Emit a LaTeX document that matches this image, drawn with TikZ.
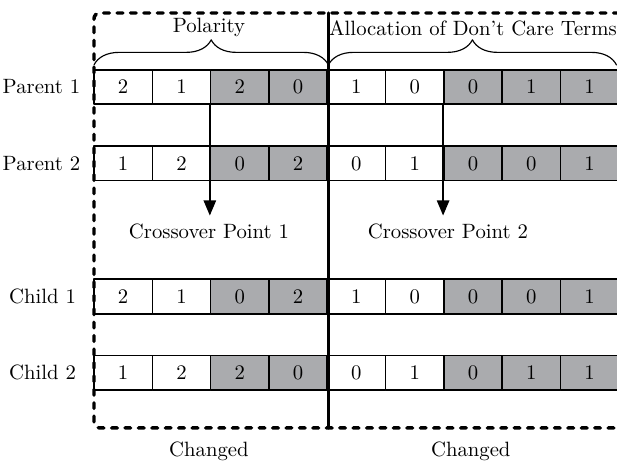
\documentclass[tikz,border=0pt]{standalone}
\usepackage{pgf,tikz}
\usetikzlibrary{arrows}
\usetikzlibrary{decorations.pathreplacing}
\definecolor{cellgray}{RGB}{170,171,174}

\begin{document}
\begin{tikzpicture}[line cap=round,line join=round,>=triangle 45,x=1cm,y=1cm,
  every node/.style={font=\fontsize{10.8}{13}\selectfont},
  cell/.style={draw,line width=0.8pt,minimum width=1.069cm,minimum height=0.632cm,inner sep=0pt},
  dcell/.style={cell,fill=cellgray}]
\clip (0,0) rectangle (11.31,-8.52);
%\useasboundingbox (0,0) rectangle (11.31,-8.52);
% row labels
\node (lp1) at (0.76,-1.595) {Parent 1};
\node (lp2) at (0.76,-2.997) {Parent 2};
\node (lc1) at (0.78,-5.435) {Child 1};
\node (lc2) at (0.78,-6.832) {Child 2};
% parent 1
\node[cell]  (p1a) at (2.257,-1.595) {2};
\node[cell]  (p1b) at (3.326,-1.595) {1};
\node[dcell] (p1c) at (4.395,-1.595) {2};
\node[dcell] (p1d) at (5.464,-1.595) {0};
\node[cell]  (p1e) at (6.533,-1.595) {1};
\node[cell]  (p1f) at (7.602,-1.595) {0};
\node[dcell] (p1g) at (8.671,-1.595) {0};
\node[dcell] (p1h) at (9.740,-1.595) {1};
\node[dcell] (p1i) at (10.809,-1.595) {1};
% parent 2
\node[cell]  (p2a) at (2.257,-2.997) {1};
\node[cell]  (p2b) at (3.326,-2.997) {2};
\node[dcell] (p2c) at (4.395,-2.997) {0};
\node[dcell] (p2d) at (5.464,-2.997) {2};
\node[cell]  (p2e) at (6.533,-2.997) {0};
\node[cell]  (p2f) at (7.602,-2.997) {1};
\node[dcell] (p2g) at (8.671,-2.997) {0};
\node[dcell] (p2h) at (9.740,-2.997) {0};
\node[dcell] (p2i) at (10.809,-2.997) {1};
% child 1
\node[cell]  (c1a) at (2.257,-5.435) {2};
\node[cell]  (c1b) at (3.326,-5.435) {1};
\node[dcell] (c1c) at (4.395,-5.435) {0};
\node[dcell] (c1d) at (5.464,-5.435) {2};
\node[cell]  (c1e) at (6.533,-5.435) {1};
\node[cell]  (c1f) at (7.602,-5.435) {0};
\node[dcell] (c1g) at (8.671,-5.435) {0};
\node[dcell] (c1h) at (9.740,-5.435) {0};
\node[dcell] (c1i) at (10.809,-5.435) {1};
% child 2
\node[cell]  (c2a) at (2.257,-6.832) {1};
\node[cell]  (c2b) at (3.326,-6.832) {2};
\node[dcell] (c2c) at (4.395,-6.832) {2};
\node[dcell] (c2d) at (5.464,-6.832) {0};
\node[cell]  (c2e) at (6.533,-6.832) {0};
\node[cell]  (c2f) at (7.602,-6.832) {1};
\node[dcell] (c2g) at (8.671,-6.832) {0};
\node[dcell] (c2h) at (9.740,-6.832) {1};
\node[dcell] (c2i) at (10.809,-6.832) {1};
% braces and their titles
\draw [line width=0.6pt,decorate,decoration={brace,amplitude=0.46cm}] (1.723,-1.19) -- (6.02,-1.19);
\draw [line width=0.6pt,decorate,decoration={brace,amplitude=0.46cm}] (6.02,-1.19) -- (11.30,-1.19);
\node (polar) at (3.83,-0.5) {Polarity};
\node (alloc) at (8.67,-0.51) {Allocation of Don't Care Terms};
% crossover points
\node (xpa) at (3.83,-4.25) {Crossover Point 1};
\node (xpb) at (8.21,-4.25) {Crossover Point 2};
\coordinate (tipa) at (p1c.south west |- 0,-3.95);
\coordinate (tipb) at (p1g.south west |- 0,-3.95);
\draw [line width=0.8pt,->] (p1c.south west) -- (tipa);
\draw [line width=0.8pt,->] (p1g.south west) -- (tipb);
% changed region and divider
\coordinate (topm) at (6.02,-0.238);
\coordinate (botm) at (6.02,-7.845);
\draw [line width=1.8pt,dash pattern=on 3pt off 4pt,rounded corners=3pt] (11.6,-0.238) -- (1.723,-0.238) -- (1.723,-7.845) -- (11.6,-7.845);
\draw [line width=1.6pt] (topm) -- (botm);
\node (chga) at (3.83,-8.28) {Changed};
\node (chgb) at (8.63,-8.28) {Changed};
\end{tikzpicture}
\end{document}
